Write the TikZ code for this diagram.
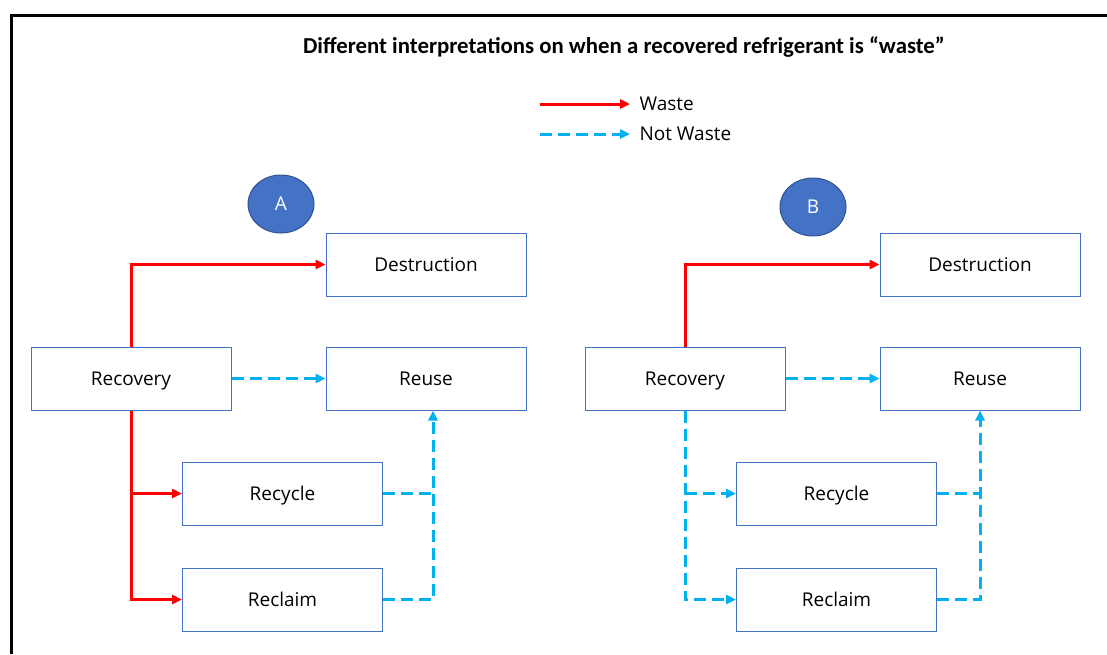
\documentclass[tikz,border=0pt]{standalone}
\usepackage{fontspec}
\setmainfont{Carlito}
\newfontfamily\rfsans{Open Sans}
\usetikzlibrary{arrows.meta,shapes.geometric}
\definecolor{rfred}{HTML}{FF0000}
\definecolor{rfblue}{HTML}{00B0F0}
\definecolor{rfedge}{HTML}{4472C4}
\definecolor{rfdark}{HTML}{2F528F}

\tikzset{rfbox/.style={draw=rfedge,line width=1pt,minimum width=200pt,minimum height=63pt,inner sep=0pt,
                       text height=17pt,text depth=4pt},
         rfwaste/.style={rfred,line width=3pt,-{Triangle[length=10pt,width=9pt]}},
         rfnotline/.style={rfblue,line width=3pt,dash pattern=on 12pt off 6pt},
         rfnot/.style={rfnotline,-{Triangle[length=10pt,width=9pt]}},
         rftag/.style={ellipse,draw=rfdark,line width=1pt,fill=rfedge,text=white,minimum width=66pt,minimum height=58pt}}

\begin{document}
\begin{tikzpicture}[x=1pt,y=-1pt, every node/.style={font=\rfsans\fontsize{19}{23}\selectfont}]
  \useasboundingbox (0,0) rectangle (1107,654);
  \draw[line width=3pt] (1107,15.5) -- (11.5,15.5) -- (11.5,654);
  % title and legend
  \node[font=\fontsize{22.8}{26}\selectfont\bfseries] (title) at (624,47)
    {Different interpretations on when a recovered refrigerant is “waste”};
  \coordinate (lw0) at (540,104); \coordinate (lw1) at (630,104);
  \coordinate (ln0) at (540,134); \coordinate (ln1) at (630,134);
  \draw[rfwaste] (lw0)--(lw1); \node[anchor=west] (lwt) at (636,104) {Waste};
  \draw[rfnot] (ln0)--(ln1);   \node[anchor=west] (lnt) at (636,134) {Not Waste};
  % boxes, same for both panels
  \foreach \p/\dx in {A/0,B/554} {
    \node[rfbox] (des\p) at (426+\dx,264.5) {Destruction};
    \node[rfbox] (reu\p) at (426+\dx,378.5) {Reuse};
    \node[rfbox] (rec\p) at (131+\dx,378.5) {Recovery};
    \node[rfbox] (cyc\p) at (282.5+\dx,493.5) {Recycle};
    \node[rfbox] (cla\p) at (282.5+\dx,599.5) {Reclaim};
  }
  \node[rftag] (tagA) at (281,204) {A};
  \node[rftag] (tagB) at (813,207) {B};
  % panel A
  \coordinate (colA) at ([xshift=7pt]reuA.south);
  \draw[rfwaste] (recA.north) |- (desA.west);
  \draw[rfnot] (recA.east) -- (reuA.west);
  \draw[rfwaste] (recA.south) |- (claA.west);
  \draw[rfwaste] (recA.south |- cycA.west) -- (cycA.west);
  \draw[rfnot] (claA.east) -| (colA);
  \draw[rfnotline] (cycA.east) -- (cycA.east -| colA);
  % panel B
  \coordinate (colB) at (reuB.south);
  \draw[rfwaste] (recB.north) |- (desB.west);
  \draw[rfnot] (recB.east) -- (reuB.west);
  \draw[rfnot] (recB.south) |- (claB.west);
  \draw[rfnot] (recB.south |- cycB.west) -- (cycB.west);
  \draw[rfnot] (claB.east) -| (colB);
  \draw[rfnotline] (cycB.east) -- (cycB.east -| colB);
\end{tikzpicture}
\end{document}
